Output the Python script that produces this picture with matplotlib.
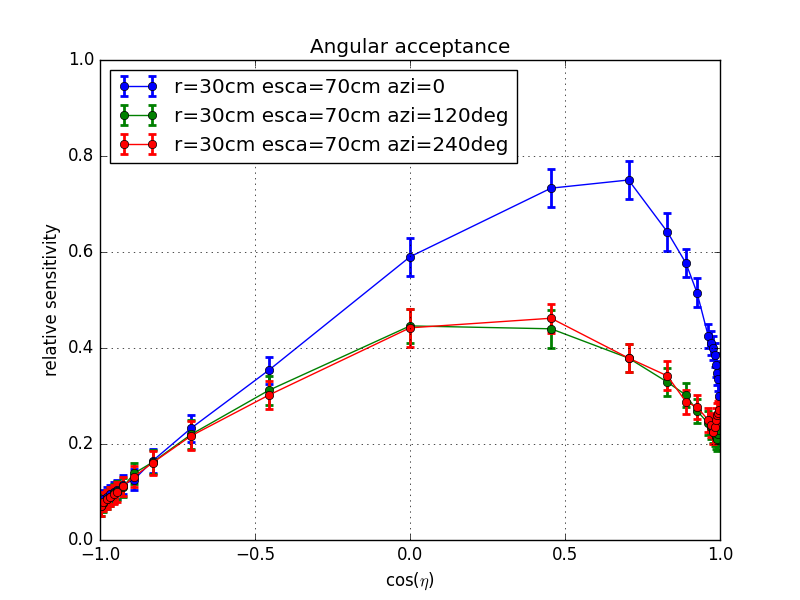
import matplotlib

matplotlib.use("Agg")
import matplotlib.pyplot as plt

plt.style.use("classic")

# cos(eta) positions of the simulated source points
cos_eta = [-0.997, -0.989, -0.979, -0.968, -0.955, -0.944, -0.926, -0.890,
           -0.830, -0.706, -0.455, 0.0, 0.455, 0.705, 0.830, 0.890, 0.926,
           0.962, 0.972, 0.978, 0.983, 0.987, 0.990, 0.993, 0.996]

sens_azi0 = [0.080, 0.085, 0.090, 0.095, 0.100, 0.105, 0.115, 0.126,
             0.165, 0.233, 0.354, 0.590, 0.733, 0.750, 0.642, 0.577, 0.515,
             0.425, 0.410, 0.400, 0.385, 0.365, 0.348, 0.335, 0.300]
err_azi0 = [0.020, 0.020, 0.020, 0.020, 0.020, 0.020, 0.020, 0.022,
            0.025, 0.028, 0.028, 0.040, 0.040, 0.040, 0.040, 0.030, 0.030,
            0.025, 0.025, 0.025, 0.025, 0.025, 0.025, 0.025, 0.025]

sens_azi120 = [0.070, 0.078, 0.085, 0.090, 0.097, 0.103, 0.110, 0.139,
               0.162, 0.220, 0.312, 0.446, 0.440, 0.379, 0.329, 0.302, 0.269,
               0.243, 0.235, 0.228, 0.220, 0.215, 0.210, 0.220, 0.230]
err_azi120 = [0.020, 0.020, 0.020, 0.020, 0.020, 0.020, 0.020, 0.022,
              0.025, 0.030, 0.030, 0.035, 0.040, 0.030, 0.030, 0.025, 0.025,
              0.025, 0.025, 0.025, 0.025, 0.025, 0.025, 0.025, 0.025]

sens_azi240 = [0.071, 0.080, 0.085, 0.090, 0.095, 0.100, 0.112, 0.132,
               0.161, 0.217, 0.302, 0.442, 0.462, 0.379, 0.342, 0.288, 0.277,
               0.250, 0.240, 0.226, 0.236, 0.250, 0.260, 0.265, 0.270]
err_azi240 = [0.020, 0.020, 0.020, 0.020, 0.020, 0.020, 0.020, 0.022,
              0.025, 0.030, 0.030, 0.040, 0.030, 0.030, 0.030, 0.025, 0.025,
              0.025, 0.025, 0.025, 0.025, 0.025, 0.025, 0.025, 0.025]

series = [
    ("r=30cm esca=70cm azi=0", sens_azi0, err_azi0, "b"),
    ("r=30cm esca=70cm azi=120deg", sens_azi120, err_azi120, "g"),
    ("r=30cm esca=70cm azi=240deg", sens_azi240, err_azi240, "r"),
]

fig, ax = plt.subplots(figsize=(8, 6), dpi=100)
for label, y, yerr, c in series:
    ax.errorbar(cos_eta, y, yerr=yerr, color=c, marker="o", markersize=6,
                mec="k", mfc=c, lw=1, elinewidth=2, capsize=3, capthick=2,
                label=label)

ax.set_xlim(-1.0, 1.0)
ax.set_ylim(0.0, 1.0)
ax.set_xticks([-1.0, -0.5, 0.0, 0.5, 1.0])
ax.set_yticks([0.0, 0.2, 0.4, 0.6, 0.8, 1.0])
ax.grid(True)
ax.set_xlabel(r"cos($\eta$)")
ax.set_ylabel("relative sensitivity")
ax.set_title("Angular acceptance")
ax.legend(loc="upper left", fontsize="large", numpoints=2)

fig.savefig("out.png", dpi=100)
